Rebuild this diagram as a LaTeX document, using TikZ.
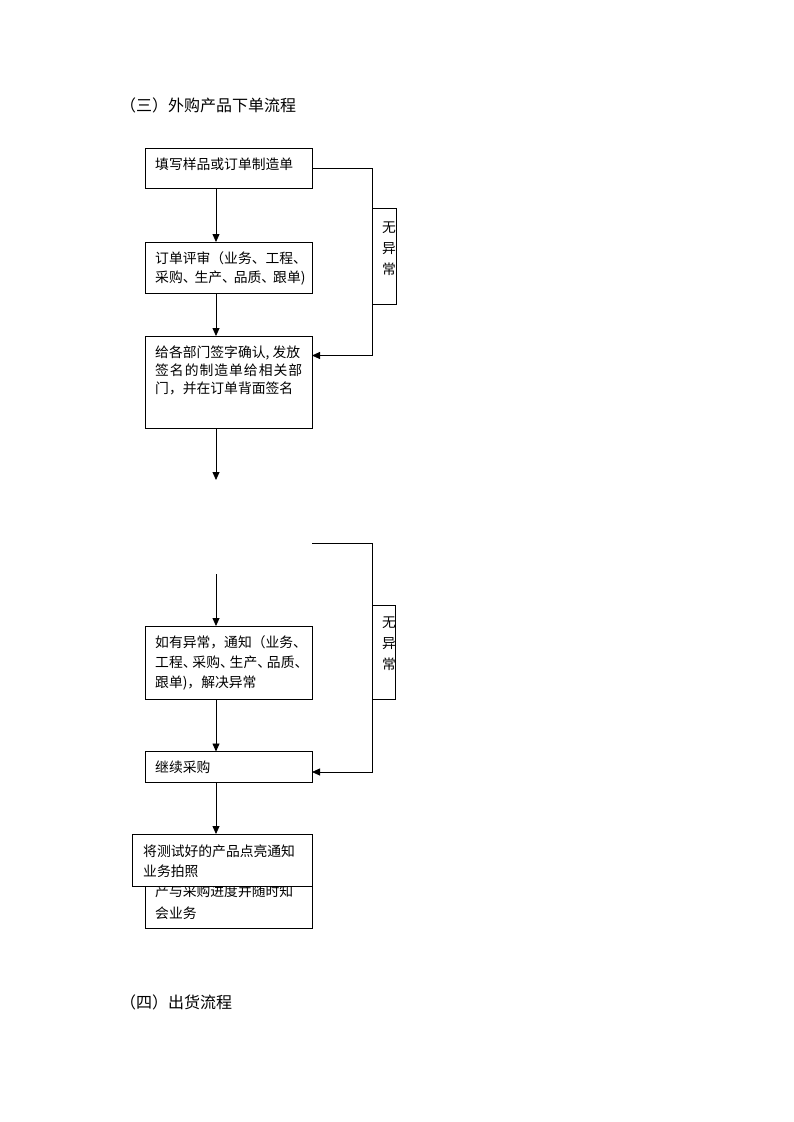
\documentclass[tikz,border=0pt]{standalone}
\usepackage{fontspec}
\setmainfont{Noto Sans CJK SC}
\usetikzlibrary{arrows.meta}
\newcommand{\mydun}[1]{\makebox[#1em][l]{、}}
\begin{document}
\begin{tikzpicture}[x=1pt,y=-1pt,
  box/.style={draw=black, line width=0.8pt, fill=white, anchor=north west, inner sep=0pt, outer sep=0pt},
  txt/.style={anchor=base west, inner sep=0pt, font=\fontsize{13.8}{18}\selectfont},
  ttl/.style={anchor=base west, inner sep=0pt, font=\fontsize{16}{18}\selectfont},
  arr/.style={draw=black, line width=0.8pt, -{Triangle[length=8pt,width=7pt]}},
  ln/.style={draw=black, line width=0.8pt}]
\useasboundingbox (0,0) rectangle (793,1122);

% titles
\node[ttl] (title1) at (120,111) {（三）外购产品下单流程};
\node[ttl] (title2) at (120,1008) {（四）出货流程};

% boxes
\node[box, minimum width=167, minimum height=40] (b1) at (145,148) {};
\node[box, minimum width=167, minimum height=51] (b2) at (145,242) {};
\node[box, minimum width=167, minimum height=92] (b3) at (145,336) {};
\node[box, minimum width=167, minimum height=73] (b4) at (145,626) {};
\node[box, minimum width=167, minimum height=30.5] (b5) at (145,751.5) {};
\node[box, minimum width=167, minimum height=92] (b6) at (145,836) {};
\node[txt] (t6a) at (155,896) {产与采购进度并随时知};
\node[txt] (t6b) at (155,918) {会业务};
\node[box, minimum width=180.5, minimum height=52] (b7) at (132,834) {};

% label boxes
\node[box, minimum width=24, minimum height=96] (L1) at (372,208) {};
\node[box, minimum width=23, minimum height=94] (L2) at (372,605) {};

% box texts
\node[txt] (t1) at (155,169.5) {填写样品或订单制造单};
\node[txt] (t2a) at (155,263.5) {订单评审（业务、工程、};
\node[txt] (t2b) at (155,282) {采购\mydun{0.85}生产\mydun{0.85}品质\mydun{0.85}跟单)};
\node[txt] (t3a) at (155,357) {给各部门签字确认, 发放};
\node[txt] (t3b) at (155,375) {签\hspace{1pt}名\hspace{1pt}的\hspace{1pt}制\hspace{1pt}造\hspace{1pt}单\hspace{1pt}给\hspace{1pt}相\hspace{1pt}关\hspace{1pt}部};
\node[txt] (t3c) at (155,393.5) {门，并在订单背面签名};
\node[txt] (t4a) at (155,647) {如有异常，通知（业务、};
\node[txt] (t4b) at (155,667) {工程\mydun{0.7}采购\mydun{0.7}生产\mydun{0.7}品质\mydun{0.7}};
\node[txt] (t4c) at (155,687) {跟单)，解决异常};
\node[txt] (t5) at (155,772) {继续采购};
\node[txt] (t7a) at (143,856) {将测试好的产品点亮通知};
\node[txt] (t7b) at (143,876) {业务拍照};

% label texts (clipped to their boxes)
\begin{scope}
  \clip (L1.north west) rectangle (L1.south east);
  \node[txt] (l1a) at (382,232) {无};
  \node[txt] (l1b) at (382,253) {异};
  \node[txt] (l1c) at (382,274) {常};
\end{scope}
\begin{scope}
  \clip (L2.north west) rectangle (L2.south east);
  \node[txt] (l2a) at (382,627) {无};
  \node[txt] (l2b) at (382,648) {异};
  \node[txt] (l2c) at (382,669) {常};
\end{scope}

% helper coordinates
\coordinate (ax) at (216,0);
\coordinate (rx) at (372,0);
\coordinate (e3) at (216,480);
\coordinate (s4) at (216,574);
\coordinate (s2) at (312,543);
\coordinate (j1) at (372,355.5);
\coordinate (j2) at (372,772);

% vertical arrows
\draw[arr] (b1.south -| ax) -- (b2.north -| ax);
\draw[arr] (b2.south -| ax) -- (b3.north -| ax);
\draw[arr] (b3.south -| ax) -- (e3);
\draw[arr] (s4) -- (b4.north -| ax);
\draw[arr] (b4.south -| ax) -- (b5.north -| ax);
\draw[arr] (b5.south -| ax) -- (b7.north -| ax);

% right-hand bypass connectors
\draw[arr] (b1.east) -- (b1.east -| rx) -- (j1) -- (j1 -| b3.east);
\draw[arr] (s2) -- (s2 -| rx) -- (j2) -- (j2 -| b5.east);
\end{tikzpicture}
\end{document}
